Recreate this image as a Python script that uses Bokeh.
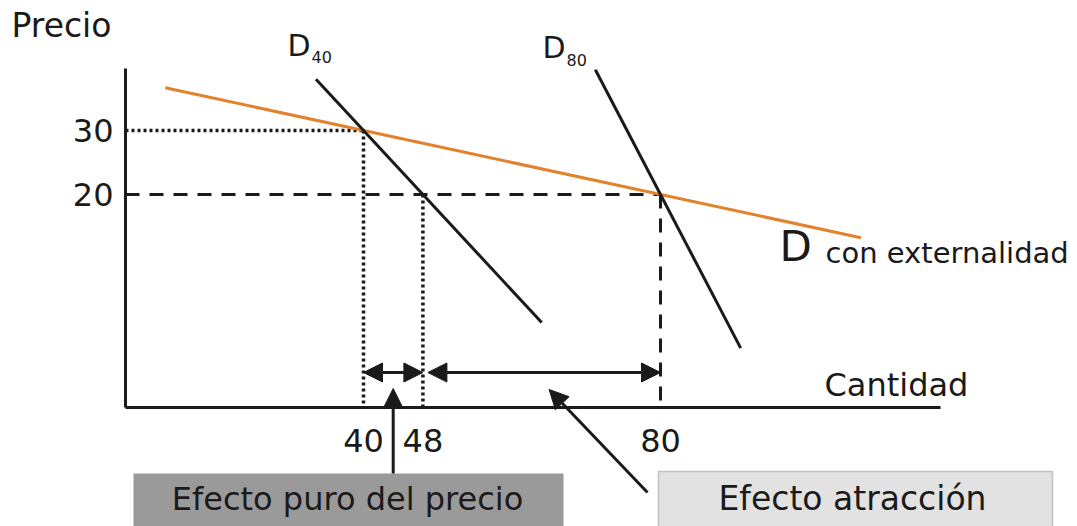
from bokeh.plotting import figure
from bokeh.models import Range1d, Arrow, NormalHead
from bokeh.core.properties import value
from bokeh.embed import file_html
from bokeh.resources import INLINE

# --- market data -----------------------------------------------------------
price_ticks = [30, 20]
price_labels = ["30", "20"]
quantity_ticks = [40, 48, 80]
quantity_labels = ["40", "48", "80"]

# demand with network externality: passes through (40, 30) and (80, 20)
d_ext_q = [40, 80]
d_ext_p = [30, 20]
# short-run demand when 40 buyers are expected: (40, 30) and (48, 20)
d40_q = [40, 48]
d40_p = [30, 20]
# short-run demand when 80 buyers are expected passes through (80, 20)
d80_q = 80
d80_p = 20
d80_slope = -0.45          # change in quantity per unit of price

# --- canvas / scale --------------------------------------------------------
W, H = 1077, 526
SX, SY = 7.425, 6.4        # pixels per unit of quantity / price
X0 = 40 - 363 / SX
X1 = X0 + W / SX
Y1 = 30 + 130 / SY
Y0 = Y1 - H / SY


def qx(px):
    """screen x (px from left) -> quantity"""
    return X0 + px / SX


def py(pyx):
    """screen y (px from top) -> price"""
    return Y1 - pyx / SY


FONT = value("DejaVu Sans")
INK = "#1a1a1a"
ORANGE = "#e3822b"

p = figure(width=W, height=H, x_range=Range1d(X0, X1), y_range=Range1d(Y0, Y1),
           output_backend="svg", toolbar_location=None,
           x_axis_location=None, y_axis_location=None, min_border=0)
p.grid.visible = False
p.outline_line_color = None
p.background_fill_color = "white"
p.border_fill_color = "white"

# axis corner
ax_q, ax_p = qx(125), py(407)

# --- caption boxes ---------------------------------------------------------
p.quad(left=[qx(133)], right=[qx(563)], top=[py(473)], bottom=[py(540)],
       fill_color="#9a9a9a", line_color=None)
p.quad(left=[qx(658)], right=[qx(1052)], top=[py(471)], bottom=[py(540)],
       fill_color="#e2e2e2", line_color="#c2c2c2", line_width=1.5)

# --- guide lines -----------------------------------------------------------
dot = dict(line_color=INK, line_width=3.5, line_dash="3 3")
dash = dict(line_color=INK, line_width=3, line_dash="14 10")
p.line([ax_q, d40_q[0]], [price_ticks[0], price_ticks[0]], **dot)
p.line([quantity_ticks[0], quantity_ticks[0]], [price_ticks[0], ax_p], **dot)
p.line([quantity_ticks[1], quantity_ticks[1]], [price_ticks[1], ax_p], **dot)
p.line([ax_q, quantity_ticks[2]], [price_ticks[1], price_ticks[1]], **dash)
p.line([quantity_ticks[2], quantity_ticks[2]], [price_ticks[1], ax_p], **dash)

# --- demand curves ---------------------------------------------------------
ext_slope = (d_ext_p[1] - d_ext_p[0]) / (d_ext_q[1] - d_ext_q[0])
ext_q = [13.3, 107.0]
ext_p = [d_ext_p[0] + ext_slope * (q - d_ext_q[0]) for q in ext_q]
p.line(ext_q, ext_p, line_color=ORANGE, line_width=3)

d40_dq = (d40_q[1] - d40_q[0]) / (d40_p[1] - d40_p[0])
d40_pp = [38.0, 0.0]
d40_qq = [d40_q[0] + d40_dq * (pr - d40_p[0]) for pr in d40_pp]
p.line(d40_qq, d40_pp, line_color=INK, line_width=3)

d80_pp = [39.5, -4.0]
d80_qq = [d80_q + d80_slope * (pr - d80_p) for pr in d80_pp]
p.line(d80_qq, d80_pp, line_color=INK, line_width=3)

# --- axes ------------------------------------------------------------------
p.line([ax_q, ax_q], [py(68), ax_p], line_color=INK, line_width=3)
p.line([ax_q, qx(940)], [ax_p, ax_p], line_color=INK, line_width=3)

# --- arrows ----------------------------------------------------------------
def head():
    return NormalHead(size=19, fill_color=INK, line_color=INK, line_width=1)


arrow_p = py(372)
p.add_layout(Arrow(start=head(), end=head(), x_start=quantity_ticks[0], y_start=arrow_p,
                   x_end=quantity_ticks[1], y_end=arrow_p, line_color=INK, line_width=3))
p.add_layout(Arrow(start=head(), end=head(), x_start=quantity_ticks[1] + 5 / SX, y_start=arrow_p,
                   x_end=quantity_ticks[2], y_end=arrow_p, line_color=INK, line_width=3))
mid_pure = (quantity_ticks[0] + quantity_ticks[1]) / 2
p.add_layout(Arrow(end=head(), x_start=mid_pure, y_start=py(473),
                   x_end=mid_pure, y_end=py(388), line_color=INK, line_width=3))
p.add_layout(Arrow(end=head(), x_start=qx(647), y_start=py(492),
                   x_end=(quantity_ticks[1] + quantity_ticks[2]) / 2 + 1, y_end=py(389),
                   line_color=INK, line_width=3))

# --- texts (positions are vertical centres) --------------------------------
def txt(x, y, s, size, align="left"):
    p.text(x=[x], y=[y], text=[s], text_font=FONT, text_font_size=size,
           text_align=align, text_baseline="middle", text_color=INK)


txt(qx(11), py(25), "Precio", "33px")
txt(qx(824), py(384), "Cantidad", "32px")
for pr, lab in zip(price_ticks, price_labels):
    txt(qx(113), pr, lab, "32px", align="right")
for q, lab in zip(quantity_ticks, quantity_labels):
    txt(q, py(440), lab, "32px", align="center")

txt(qx(287), py(45), "D", "30px")
txt(qx(311), py(56), "40", "16px")
txt(qx(542), py(47), "D", "30px")
txt(qx(566), py(59), "80", "16px")
txt(qx(779), py(246), "D", "42px")
txt(qx(825), py(252), "con externalidad", "29px")

txt(qx(347), py(498), "Efecto puro del precio", "32px", align="center")
txt(qx(852), py(498), "Efecto atracción", "33px", align="center")

open("out.html", "w").write(file_html(p, INLINE))
